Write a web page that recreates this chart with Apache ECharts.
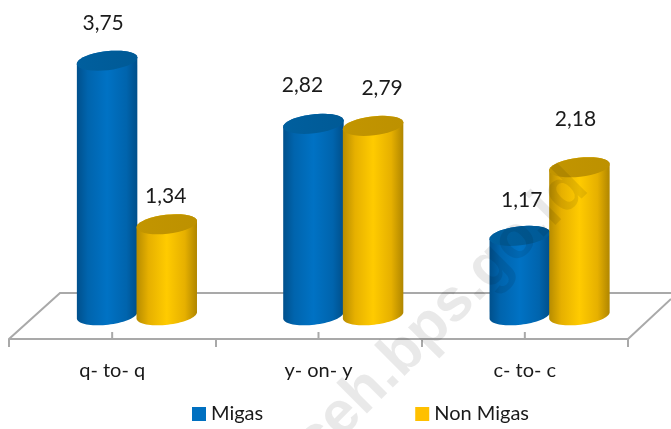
<!DOCTYPE html>
<html><head><meta charset="utf-8">
<style>html,body{margin:0;padding:0;background:#fff}#c{width:671px;height:429px}</style>
<script src="https://cdn.jsdelivr.net/npm/echarts@6/dist/echarts.min.js"></script>
</head><body><div id="c"></div>
<script>
const categories = ['q- to- q', 'y- on- y', 'c- to- c'];
const migas = [3.75, 2.82, 1.17];
const nonMigas = [1.34, 2.79, 2.18];
const migasLabelShift = [[-4, -37], [-11, -39], [2, -36]];
const nonMigasLabelShift = [[-1, -28], [9, -38], [-4, -48]];
const FONT = 'Lato,"Open Sans",sans-serif';
const chart = echarts.init(document.getElementById('c'), null, {renderer: 'canvas'});

function fmt(v) { return v.toFixed(2).replace('.', ','); }
function arc(cx, cy, rx, ry, from, to, rot) {
  const pts = [];
  for (let i = 0; i <= 36; i++) {
    const t = from + (to - from) * i / 36;
    const x = rx * Math.cos(t), y = ry * Math.sin(t);
    pts.push([cx + x * Math.cos(rot) - y * Math.sin(rot), cy + x * Math.sin(rot) + y * Math.cos(rot)]);
  }
  return pts;
}
function shade(stops) {
  return new echarts.graphic.LinearGradient(0, 0, 1, 0, stops.map(c => ({offset: c[0], color: c[1]})));
}
function cylinder(side, bodyStops, capStops, shifts) {
  return function (params, api) {
    const i = api.value(0), v = api.value(1);
    const band = api.size([1, 0])[0];
    const w = band * 0.295, rx = w / 2, ry = 9.5, rot = -0.115;
    const base = api.coord([i, 0]), top = api.coord([i, v]);
    const cx = base[0] + band * 0.12 + side * w * 0.49;
    const body = arc(cx, top[1], rx, ry, Math.PI, 2 * Math.PI, rot)
      .concat(arc(cx, base[1], rx, ry, 0, Math.PI, rot));
    const s = shifts[i];
    return {type: 'group', children: [
      {type: 'polygon', shape: {points: body}, style: {fill: shade(bodyStops)}},
      {type: 'polygon', shape: {points: arc(cx, top[1], rx, ry, 0, 2 * Math.PI, rot)}, style: {fill: shade(capStops)}},
      {type: 'text', z2: 10, x: cx + s[0], y: top[1] + s[1], style: {
        text: fmt(v), fill: '#1a1a1a', font: '21px ' + FONT, align: 'center', verticalAlign: 'middle'}}
    ]};
  };
}
const blueBody = [[0, '#00508c'], [0.18, '#0064ad'], [0.5, '#0072c4'], [0.82, '#0064ad'], [1, '#004f8a']];
const blueCap = [[0, '#005f9e'], [1, '#005a96']];
const yellowBody = [[0, '#b78c00'], [0.2, '#e6b000'], [0.5, '#ffcb00'], [0.8, '#e6b000'], [1, '#b08600']];
const yellowCap = [[0, '#c29500'], [1, '#bd9100']];

chart.setOption({
  animation: false,
  backgroundColor: '#fff',
  grid: {left: 9, right: 43, top: 3, bottom: 90, containLabel: false},
  xAxis: {
    type: 'category', data: categories, boundaryGap: true,
    axisLine: {show: true, onZero: false, lineStyle: {color: '#a9a9a9', width: 2}},
    axisTick: {show: true, alignWithLabel: false, length: 8, lineStyle: {color: '#a9a9a9', width: 2}},
    axisLabel: {color: '#1a1a1a', fontFamily: FONT, fontSize: 20, margin: 22}
  },
  yAxis: {type: 'value', min: -0.35, max: 4.6, show: false, splitLine: {show: false}},
  legend: {
    left: 187, top: 399, data: ['Migas', 'Non Migas'], icon: 'rect', itemWidth: 14, itemHeight: 14,
    itemGap: 152, textStyle: {color: '#1a1a1a', fontFamily: FONT, fontSize: 20}
  },
  series: [
    {
      name: 'ticks', type: 'custom', data: categories.map((c, i) => [i]), silent: true, z: 1,
      encode: {x: 0}, renderItem(params, api) {
        const p = api.coord([api.value(0), -0.35]);
        return {type: 'line', shape: {x1: p[0], y1: p[1], x2: p[0], y2: p[1] - 7},
          style: {stroke: '#a9a9a9', lineWidth: 2}};
      }
    },
    {
      name: 'Migas', type: 'custom', z: 3, itemStyle: {color: '#0070c0'},
      data: migas.map((v, i) => [i, v]), encode: {x: 0, y: 1},
      renderItem: cylinder(-1, blueBody, blueCap, migasLabelShift)
    },
    {
      name: 'Non Migas', type: 'custom', z: 4, itemStyle: {color: '#ffc000'},
      data: nonMigas.map((v, i) => [i, v]), encode: {x: 0, y: 1},
      renderItem: cylinder(1, yellowBody, yellowCap, nonMigasLabelShift)
    }
  ],
  graphic: [
    {type: 'polyline', z: 0, shape: {points: [[9, 339], [60, 293], [671, 293]]}, style: {stroke: '#a9a9a9', lineWidth: 2, fill: null}},
    {type: 'line', z: 0, shape: {x1: 628, y1: 339, x2: 671, y2: 299}, style: {stroke: '#a9a9a9', lineWidth: 2}},
    {type: 'text', z: 100, silent: true, x: 430, y: 327, rotation: Math.PI / 4, originX: 0, originY: 0,
      style: {text: 'aceh.bps.go.id', fill: 'rgba(0,0,0,0.085)', font: 'bold 60px "Liberation Sans",sans-serif', align: 'center', verticalAlign: 'middle'}}
  ]
});
</script></body></html>
